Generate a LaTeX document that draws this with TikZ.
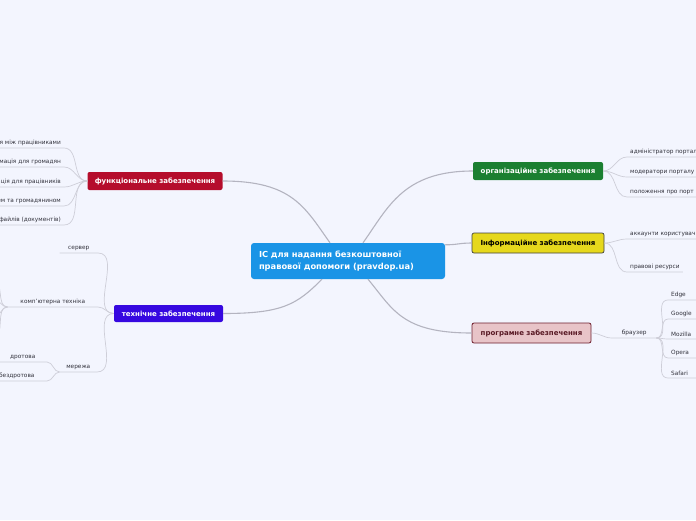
\documentclass[tikz,border=0pt]{standalone}
\usepackage{fontspec}
\setmainfont{DejaVu Sans}
\usetikzlibrary{positioning}
\definecolor{mapbg}{RGB}{243,245,254}
\definecolor{rootfill}{RGB}{26,148,230}
\definecolor{funcfill}{RGB}{181,13,44}
\definecolor{techfill}{RGB}{54,8,224}
\definecolor{orgfill}{RGB}{27,127,49}
\definecolor{infofill}{RGB}{230,216,28}
\definecolor{progfill}{RGB}{232,196,200}
\definecolor{progline}{RGB}{110,30,45}
\definecolor{linkgray}{RGB}{180,180,192}
\definecolor{twiggray}{RGB}{206,206,216}
\definecolor{leaftext}{RGB}{50,50,60}

\begin{document}
\begin{tikzpicture}[
  x=1pt, y=-1pt,
  font=\fontsize{5.8}{6.8}\selectfont,
  root/.style={rectangle, fill=rootfill, rounded corners=3pt, text=white, font=\fontsize{8.3}{12}\selectfont\bfseries, text width=178pt, align=left, inner xsep=8pt, minimum height=36pt},
  branch/.style={rectangle, rounded corners=2pt, text=white, font=\fontsize{7}{8}\selectfont\bfseries, minimum height=18pt, inner sep=2pt},
  leaf/.style={inner xsep=3pt, inner ysep=2.5pt, text=leaftext},
  link/.style={draw=linkgray, line width=1.1pt},
  twig/.style={draw=twiggray, line width=0.7pt}
]
\useasboundingbox (0,0) rectangle (696,520);
\clip (0,0) rectangle (696,520);
\fill[mapbg] (0,0) rectangle (696,520);

% main topics
\node[root] (root) at (348,261) {ІС для надання безкоштовної\\правової допомоги (pravdop.ua)};
\node[branch, fill=funcfill, minimum width=135pt] (func) at (155,181) {функціональне забезпечення};
\node[branch, fill=techfill, minimum width=109pt, minimum height=17pt] (tech) at (168.5,313.5) {технічне забезпечення};
\node[branch, fill=orgfill, minimum width=130pt] (org) at (538,171) {організаційне забезпечення};
\node[branch, fill=infofill, draw=black!75, line width=0.7pt, text=black, minimum width=132pt, minimum height=20pt] (info) at (538,243) {Інформаційне забезпечення};
\node[branch, fill=progfill, draw=progline, line width=0.8pt, text=progline!80!black, minimum width=119pt, minimum height=20pt] (prog) at (531.5,333) {програмне забезпечення};

\draw[link] (func.east) .. controls +(70,0) and +(-25,-35) .. ([xshift=-18pt]root.north);
\draw[link] (tech.east) .. controls +(60,0) and +(-25,25) .. ([xshift=-26pt]root.south);
\draw[link] (org.west) .. controls +(-70,0) and +(25,-35) .. ([xshift=15pt]root.north);
\draw[link] ([yshift=-2pt]root.north east) .. controls +(12,0) and +(-12,0) .. (info.west);
\draw[link] (prog.west) .. controls +(-70,0) and +(25,30) .. ([xshift=20pt]root.south);

% functional
\node[leaf, anchor=south east] (f1) at (64,148) {ція між працівниками};
\node[leaf, anchor=south east] (f2) at (64,167) {рмація для громадян};
\node[leaf, anchor=south east] (f3) at (64,187) {ація для працівників};
\node[leaf, anchor=south east] (f4) at (64,206) {цем та громадянином};
\node[leaf, anchor=south east] (f5) at (64,225) {файлів (документів)};
\foreach \n in {f1,f2,f3,f4,f5}
  \draw[twig] (func.west) to[out=180,in=0] (\n.south east) -- (\n.south west);

% technical
\node[leaf, anchor=south east, minimum width=38pt] (t1) at (98,253) {сервер};
\node[leaf, anchor=south east, minimum width=90pt] (t2) at (98,307) {комп'ютерна техніка};
\node[leaf, anchor=south east, minimum width=37pt] (t3) at (97,372) {мережа};
\foreach \n in {t1,t2,t3}
  \draw[twig] (tech.west) to[out=180,in=0] (\n.south east) -- (\n.south west);
\node[leaf, anchor=south east, minimum width=48pt] (n1) at (47,362) {дротова};
\node[leaf, anchor=south east, minimum width=60pt] (n2) at (47,381) {бездротова};
\foreach \n in {n1,n2}
  \draw[twig] (t3.south west) to[out=180,in=0] (\n.south east) -- (\n.south west);
\coordinate (k1) at (-7,281);
\coordinate (k2) at (-7,299);
\coordinate (k3) at (-7,318);
\coordinate (k4) at (-7,337);
\foreach \n in {k1,k2,k3,k4}
  \draw[twig] (t2.south west) to[out=180,in=0] (\n) -- +(-20,0);

% organisational
\node[leaf, anchor=south west] (o1) at (627,157) {адміністратор портал};
\node[leaf, anchor=south west] (o2) at (627,177) {модератори порталу};
\node[leaf, anchor=south west] (o3) at (627,197) {положення про порт};
\foreach \n in {o1,o2,o3}
  \draw[twig] (org.east) to[out=0,in=180] (\n.south west) -- +(80,0);

% information
\node[leaf, anchor=south west] (i1) at (627,239) {аккаунти користувач};
\node[leaf, anchor=south west] (i2) at (627,272) {правові ресурси};
\draw[twig] (info.east) to[out=0,in=180] (i1.south west) -- +(80,0);
\draw[twig] (info.east) to[out=0,in=180] (i2.south west) -- (i2.south east);

% software
\node[leaf, anchor=south west, minimum width=44pt] (br) at (612,338) {браузер};
\draw[twig] (prog.east) to[out=0,in=180] (br.south west) -- (br.south east);
\node[leaf, anchor=south west] (s1) at (668,300) {Edge};
\node[leaf, anchor=south west] (s2) at (668,319) {Google};
\node[leaf, anchor=south west] (s3) at (668,339) {Mozilla};
\node[leaf, anchor=south west] (s4) at (668,358) {Opera};
\node[leaf, anchor=south west] (s5) at (668,378) {Safari};
\foreach \n in {s1,s2,s3,s4,s5}
  \draw[twig] (br.south east) to[out=0,in=180] (\n.south west) -- +(40,0);
\end{tikzpicture}
\end{document}
